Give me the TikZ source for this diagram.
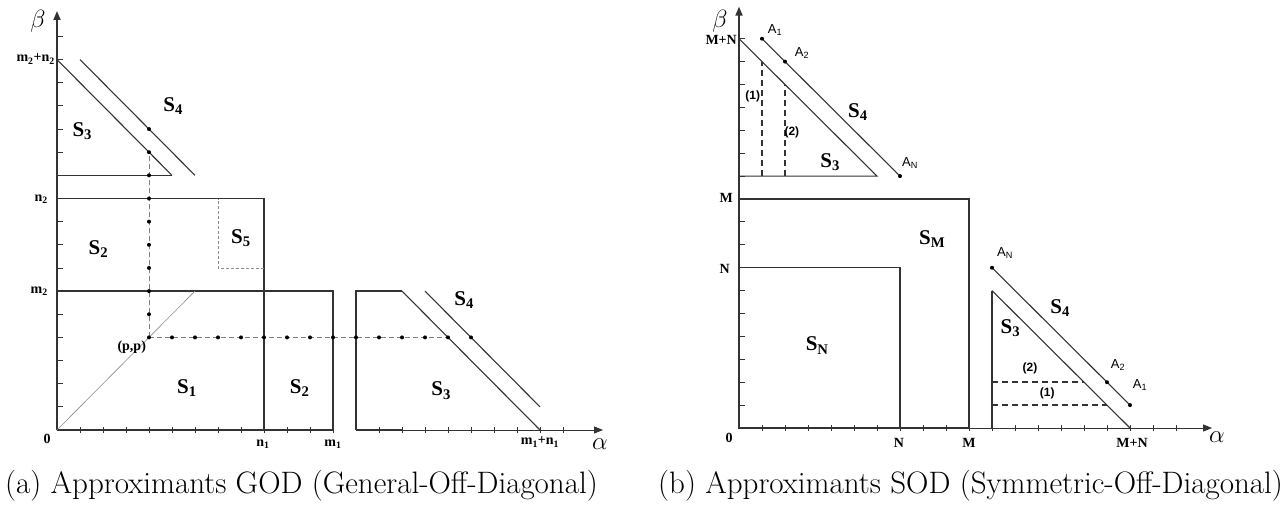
\documentclass[tikz,border=0pt]{standalone}
\usepackage{fontspec}
\setmainfont{Latin Modern Roman}
\newfontfamily\tms{Liberation Serif}
\newfontfamily\ars{Liberation Sans}
\usetikzlibrary{arrows.meta}
\tikzset{
 ax/.style={line width=1.8pt, black!80},
 thk/.style={line width=1.6pt, black!80},
 thn/.style={line width=1.1pt, black!80},
 gry/.style={line width=0.6pt, black!45},
 dsh/.style={line width=1.6pt, black!80, dash pattern=on 6pt off 4pt},
 dotline/.style={line width=0.7pt, black!50, dash pattern=on 5pt off 3pt},
 dotnode/.style={circle, fill=black, inner sep=0pt, minimum size=4pt},
 slab/.style={font=\tms\bfseries\fontsize{21}{21}\selectfont, inner sep=0pt},
 axlab/.style={font=\tms\bfseries\fontsize{14}{14}\selectfont, inner sep=0pt},
 alab/.style={font=\ars\fontsize{13}{13}\selectfont, inner sep=0pt},
 nlab/.style={font=\ars\bfseries\fontsize{12}{12}\selectfont, inner sep=0pt},
 greek/.style={font=\fontsize{26}{26}\selectfont, inner sep=0pt},
 tickl/.style={line width=0.9pt, black!80},
 arr/.style={-{Triangle[length=9pt,width=7pt]}},
 captxt/.style={font=\rmfamily\fontsize{31}{36}\selectfont, inner sep=0pt, anchor=base west},
}
\newcommand{\sbs}[1]{\textsubscript{#1}}
\begin{document}
\begin{tikzpicture}
\useasboundingbox (0,0) rectangle (1287pt,-506pt);
\fill[white] (0,0) rectangle (1287pt,-506pt);

% ================= (a) =================
\begin{scope}[shift={(57pt,-430pt)}, x=23pt, y=23.15pt]
 % ticks
 \foreach \k in {1,...,17} \draw[tickl] (0,\k) -- ++(6pt,0);
 \foreach \k in {1,...,12,14,15,...,22} \draw[tickl] ([yshift=-3pt]\k,0) -- ++(0,6pt);
 % axes
 \draw[ax,arr] (0,0) -- (0,18.1);
 \draw[ax] (0,0) -- (12,0);
 \draw[thk] (13,0) -- (15,0);
 \draw[line width=1pt,black!80,arr] (15,0) -- (23.74,0);
 % rectangles
 \draw[thk] (0,6) -- (12,6) -- (12,0);
 \draw[thk] (9,0) -- (9,10) -- (0,10);
 \draw[gry, dash pattern=on 3pt off 2pt] (9,7) -- (7,7) -- (7,10);
 \draw[gry] (0,0) -- (6,6);
 % top triangle
 \draw[thn] (0,16) -- (5,11);
 \draw[thk] (0,11) -- (5,11);
 \draw[thn] (1,16) -- (6,11);
 % right piece
 \draw[thk] (13,0) -- (13,6) -- (15,6);
 \draw[thn] (15,6) -- (21,0);
 \draw[thn] (16,6) -- (21,1);
 % dotted paths
 \draw[dotline] (4,4) -- (4,12);
 \draw[dotline] (4,4) -- (17,4);
 \foreach \k in {4,...,12} \node[dotnode] (va\k) at (4,\k) {};
 \node[dotnode] (va13) at (4,13) {};
 \foreach \k in {5,...,18} \node[dotnode] (ha\k) at (\k,4) {};
 % labels
 \node[slab] (a-s3t) at (1.1,12.9) {S\sbs{3}};
 \node[slab] (a-s4t) at (5.05,14) {S\sbs{4}};
 \node[slab] (a-s2u) at (1.8,7.8) {S\sbs{2}};
 \node[slab] (a-s5) at (8.0,8.3) {S\sbs{5}};
 \node[slab] (a-s1) at (5.65,1.8) {S\sbs{1}};
 \node[slab] (a-s2l) at (10.55,1.8) {S\sbs{2}};
 \node[slab] (a-s4r) at (17.7,5.6) {S\sbs{4}};
 \node[slab] (a-s3r) at (16.7,1.7) {S\sbs{3}};
 \node[axlab] (a-pp) at (3.25,3.6) {(p,p)};
\end{scope}
\node[greek] (a-beta) at (38pt,-21pt) {$\beta$};
\node[greek] (a-alpha) at (600pt,-444pt) {$\alpha$};
\node[axlab] (a-0) at (47pt,-439pt) {0};
\node[axlab] (a-n1) at (263pt,-444pt) {n\sbs{1}};
\node[axlab] (a-m1) at (333pt,-444pt) {m\sbs{1}};
\node[axlab] (a-m1n1) at (540pt,-442pt) {m\sbs{1}+n\sbs{1}};
\node[axlab, anchor=east] (a-m2n2) at (55pt,-59pt) {m\sbs{2}+n\sbs{2}};
\node[axlab, anchor=east] (a-n2) at (48pt,-199pt) {n\sbs{2}};
\node[axlab, anchor=east] (a-m2) at (48pt,-291pt) {m\sbs{2}};

% ================= (b) =================
\begin{scope}[shift={(739pt,-428pt)}, x=23pt, y=22.9pt]
 \foreach \k in {1,...,17} \draw[tickl] (0,\k) -- ++(6pt,0);
 \foreach \k in {1,...,19} \draw[tickl] ([yshift=-3pt]\k,0) -- ++(0,6pt);
 \draw[ax,arr] (0,0) -- (0,18.4);
 \draw[line width=1pt,black!80,arr] (0,0) -- (20.57,0);
 \draw[ax] (0,0) -- (10,0);
 % squares
 \draw[thk] (0,0) rectangle (10,10);
 \draw[thn] (7,0) -- (7,7) -- (0,7);
 % upper triangle
 \draw[thn] (0,17) -- (6,11) -- (0,11);
 \draw[thn] (1,17) -- (7,11);
 \draw[dsh] (1,11) -- (1,16);
 \draw[dsh] (2,11) -- (2,15);
 \node[dotnode] (b-a1t) at (1,17) {};
 \node[dotnode] (b-a2t) at (2,16) {};
 \node[dotnode] (b-ant) at (7,11) {};
 % right triangle
 \draw[thk] (11,0) -- (11,6);
 \draw[thn] (11,6) -- (17,0);
 \draw[thn] (11,7) -- (17,1);
 \draw[dsh] (11,2) -- (15,2);
 \draw[dsh] (11,1) -- (16,1);
 \node[dotnode] (b-anr) at (11,7) {};
 \node[dotnode] (b-a2r) at (16,2) {};
 \node[dotnode] (b-a1r) at (17,1) {};
 % labels
 \node[nlab] (b-l1t) at (0.6,14.5) {(1)};
 \node[nlab] (b-l2t) at (2.3,12.9) {(2)};
 \node[slab] (b-s4t) at (5.17,13.8) {S\sbs{4}};
 \node[slab] (b-s3t) at (3.96,11.6) {S\sbs{3}};
 \node[slab] (b-sm) at (8.4,8.25) {S\sbs{M}};
 \node[slab] (b-sn) at (3.4,3.6) {S\sbs{N}};
 \node[slab] (b-s3r) at (11.8,4.37) {S\sbs{3}};
 \node[slab] (b-s4r) at (13.96,5.24) {S\sbs{4}};
 \node[nlab] (b-l2r) at (12.65,2.6) {(2)};
 \node[nlab] (b-l1r) at (13.4,1.5) {(1)};
\end{scope}
\node[alab] (b-A1t) at (775pt,-30pt) {A\sbs{1}};
\node[alab] (b-A2t) at (802pt,-53pt) {A\sbs{2}};
\node[alab] (b-ANt) at (910pt,-163pt) {A\sbs{N}};
\node[alab] (b-ANr) at (1005pt,-253pt) {A\sbs{N}};
\node[alab] (b-A2r) at (1118pt,-365pt) {A\sbs{2}};
\node[alab] (b-A1r) at (1140pt,-385pt) {A\sbs{1}};
\node[greek] (b-beta) at (720pt,-21pt) {$\beta$};
\node[greek] (b-alpha) at (1217pt,-437pt) {$\alpha$};
\node[axlab] (b-0) at (729pt,-438pt) {0};
\node[axlab] (b-N) at (899pt,-443pt) {N};
\node[axlab] (b-M) at (969pt,-443pt) {M};
\node[axlab] (b-MN) at (1132pt,-443pt) {M+N};
\node[axlab, anchor=east] (b-MNy) at (737pt,-40pt) {M+N};
\node[axlab, anchor=east] (b-My) at (733pt,-198pt) {M};
\node[axlab, anchor=east] (b-Ny) at (730pt,-269pt) {N};

% captions
\node[captxt] (capa) at (5pt,-493pt) {(a) Approximants GOD (General-Off-Diagonal)};
\node[captxt] (capb) at (658pt,-493pt) {(b) Approximants SOD (Symmetric-Off-Diagonal)};
\end{tikzpicture}
\end{document}
